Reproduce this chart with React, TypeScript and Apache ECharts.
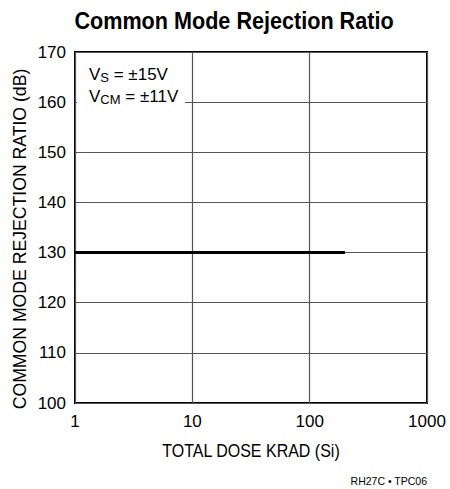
import React, { useEffect, useRef } from "react";
import * as echarts from "echarts";

const xTicks = [1, 10, 100, 1000];
const yMin = 100;
const yMax = 170;
const yStep = 10;
const cmrrSeries: [number, number][] = [
  [1, 130],
  [200, 130],
];
const titleText = "Common Mode Rejection Ratio";
const xName = "TOTAL DOSE KRAD (Si)";
const yName = "COMMON MODE REJECTION RATIO (dB)";
const noteText = "RH27C • TPC06";

const FONT = "'Liberation Sans', Arial, sans-serif";

export default function App() {
  const ref = useRef<HTMLDivElement>(null);
  useEffect(() => {
    document.body.style.margin = "0";
    if (!ref.current) return;
    const chart = echarts.init(ref.current, null, { renderer: "svg" });
    chart.setOption({
      animation: false,
      backgroundColor: "#ffffff",
      textStyle: { fontFamily: FONT },
      grid: {
        left: 75,
        right: 23,
        top: 52,
        bottom: 86,
        show: true,
        borderColor: "#000",
        borderWidth: 2,
        backgroundColor: "transparent",
      },
      xAxis: {
        type: "log",
        logBase: 10,
        min: xTicks[0],
        max: xTicks[xTicks.length - 1],
        axisLine: { show: false },
        axisTick: { show: false },
        minorTick: { show: false },
        splitLine: { show: true, lineStyle: { color: "#555", width: 1.2 } },
        axisLabel: {
          color: "#000",
          fontSize: 17,
          fontFamily: FONT,
          margin: 10,
          formatter: (v: number) => String(Math.round(v)),
        },
      },
      yAxis: {
        type: "value",
        min: yMin,
        max: yMax,
        interval: yStep,
        axisLine: { show: false },
        axisTick: { show: false },
        splitLine: { show: true, lineStyle: { color: "#555", width: 1.2 } },
        axisLabel: { color: "#000", fontSize: 17, fontFamily: FONT, margin: 9 },
      },
      graphic: [
        {
          type: "text",
          x: 234,
          y: 21,
          scaleX: 0.9,
          style: {
            text: titleText,
            fill: "#000",
            font: `bold 24px ${FONT}`,
            align: "center",
            verticalAlign: "middle",
          },
        },
        {
          type: "rect",
          shape: { x: 77, y: 60, width: 108, height: 48 },
          style: { fill: "#fff" },
          z: 50,
        },
        {
          type: "text",
          x: 89,
          y: 63,
          z: 51,
          style: {
            text: "V{s|S} = ±15V\nV{s|CM} = ±11V",
            fill: "#000",
            font: `17px ${FONT}`,
            lineHeight: 22,
            rich: {
              s: { fontSize: 13, fontFamily: FONT, padding: [7, 0, 0, 0], fill: "#000" },
            },
          },
        },
        {
          type: "text",
          x: 20,
          y: 239,
          rotation: Math.PI / 2,
          scaleX: 0.98,
          style: {
            text: yName,
            fill: "#000",
            font: `18px ${FONT}`,
            align: "center",
            verticalAlign: "middle",
          },
        },
        {
          type: "text",
          x: 251,
          y: 451,
          scaleX: 0.89,
          style: {
            text: xName,
            fill: "#000",
            font: `18px ${FONT}`,
            align: "center",
            verticalAlign: "middle",
          },
        },
        {
          type: "text",
          x: 427,
          y: 481,
          style: {
            text: noteText,
            fill: "#000",
            font: `10.5px ${FONT}`,
            align: "right",
            verticalAlign: "middle",
          },
        },
      ],
      series: [
        {
          type: "line",
          data: cmrrSeries,
          showSymbol: false,
          lineStyle: { color: "#000", width: 3 },
          z: 60,
        },
      ],
    });
    return () => chart.dispose();
  }, []);
  return <div ref={ref} style={{ width: 450, height: 489 }} />;
}
